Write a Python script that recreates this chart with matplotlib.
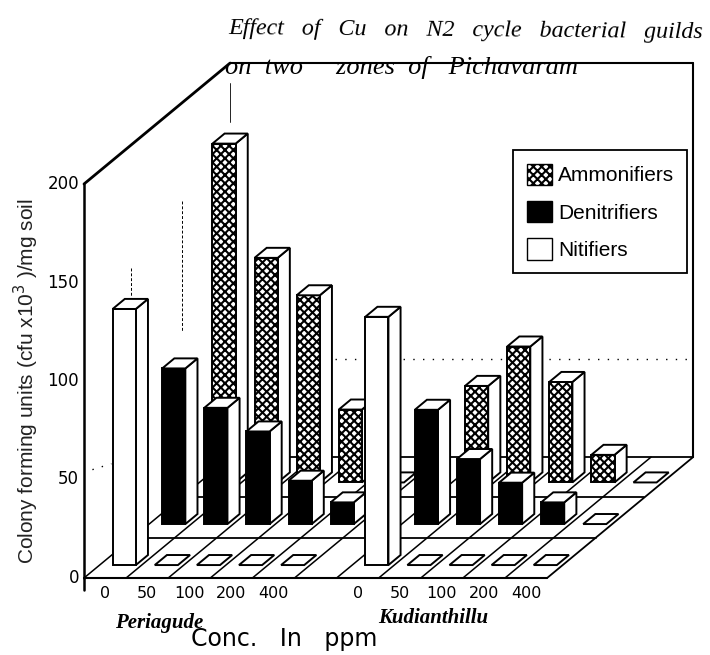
import matplotlib
matplotlib.use('Agg')
import matplotlib.pyplot as plt
from matplotlib.patches import Patch

plt.rcParams['hatch.linewidth'] = 1.5
plt.rcParams['font.family'] = ['Liberation Sans', 'DejaVu Sans']

# values, slots 0-4 Periagude, 6-10 Kudianthillu
slots = [0, 1, 2, 3, 4, 6, 7, 8, 9, 10]
conc_labels = ['0', '50', '100', '200', '400', '0', '50', '100', '200', '400']
ammonifiers = [172, 114, 95, 37, 0, 49, 69, 51, 14, 0]
denitrifiers = [79, 59, 47, 22, 11, 58, 33, 21, 11, 0]
nitrifiers = [130, 0, 0, 0, 0, 126, 0, 0, 0, 0]
y_ticks = [0, 50, 100, 150, 200]

# oblique projection, one slot is 42.1 px and one unit is 1.97 px
DX = 3.47
DY = 61.4
N_SLOTS = 11


def proj(slot, depth, value=0):
    return slot + depth * DX, value + depth * DY


def line(ax, a, b, lw=1.3, **kw):
    ax.plot([a[0], b[0]], [a[1], b[1]], color='k', lw=lw, solid_capstyle='round', **kw)


def bar3(ax, slot, depth, value, face, hatch=None):
    x0 = slot + 0.31
    x1 = x0 + 0.55
    d0 = depth
    d1 = depth + 0.083
    front = [proj(x0, d0), proj(x1, d0), proj(x1, d0, value), proj(x0, d0, value)]
    side = [proj(x1, d0), proj(x1, d1), proj(x1, d1, value), proj(x1, d0, value)]
    top = [proj(x0, d0, value), proj(x1, d0, value), proj(x1, d1, value), proj(x0, d1, value)]
    if value > 0:
        ax.fill(*zip(*side), facecolor='white', edgecolor='k', lw=1.4, zorder=3)
        ax.fill(*zip(*front), facecolor=face, edgecolor='k', lw=1.4, hatch=hatch, zorder=3)
    ax.fill(*zip(*top), facecolor='white', edgecolor='k', lw=1.4, zorder=3)


fig = plt.figure(figsize=(7.1, 6.55), dpi=100)
ax = fig.add_axes([0, 0, 1, 1])
ax.set_xlim(-84 / 42.1, (710 - 84) / 42.1)
ax.set_ylim((578 - 655) / 1.97, 578 / 1.97)
ax.axis('off')

# walls
line(ax, proj(0, 0, 0), proj(0, 0, 200), lw=1.8)
line(ax, proj(0, 0, -6), proj(0, 0, 0), lw=1.8)
line(ax, proj(0, 0, 200), proj(0, 1, 200), lw=2)
line(ax, proj(0, 1, 200), proj(N_SLOTS, 1, 200), lw=1.5)
line(ax, proj(N_SLOTS, 1, 0), proj(N_SLOTS, 1, 200), lw=1.5)
line(ax, proj(0, 1, 190), proj(0, 1, 170), lw=0.6)
for s, top, bottom in [(-1.15, 130, 64), (-2.35, 96, 82)]:
    line(ax, proj(s, 1, top), proj(s, 1, bottom), lw=0.7, linestyle=(0, (3, 2)))
ax.plot(*zip(proj(2.5, 1, 50), proj(N_SLOTS, 1, 50)), color='k', lw=1, linestyle=(0, (1, 6)))
ax.plot(*zip(proj(0.2, 0, 55), proj(0.65, 0, 58)), color='k', lw=1, linestyle=(0, (1, 6)))

# floor
line(ax, proj(0, 0), proj(N_SLOTS, 0), lw=1.5)
line(ax, proj(0, 1), proj(N_SLOTS, 1), lw=1.3)
line(ax, proj(N_SLOTS, 0), proj(N_SLOTS, 1), lw=1.3)
for s in range(N_SLOTS):
    line(ax, proj(s, 0), proj(s, 1), lw=1.1)
for d in [1 / 3, 2 / 3]:
    line(ax, proj(0, d), proj(N_SLOTS, d), lw=1.3)

# back row first so the front rows cover it
for s, v in zip(slots, ammonifiers):
    bar3(ax, s, 0.79, v, 'white', hatch='xxxx')
for s, v in zip(slots, denitrifiers):
    bar3(ax, s, 0.446, v, 'black')
for s, v in zip(slots, nitrifiers):
    bar3(ax, s, 0.107, v, 'white')

# tick labels
for v in y_ticks:
    x, y = proj(-0.12, 0, v)
    ax.text(x, y, str(v), ha='right', va='center', fontsize=12, family='DejaVu Sans')
for s, lab in zip(slots, conc_labels):
    x, y = proj(s + 0.5, 0, -8)
    ax.text(x, y, lab, ha='center', va='center', fontsize=11.5, family='DejaVu Sans')

ax.text(-1.36, 100, 'Colony forming units (cfu x10$^3$ )/mg soil', rotation=90, ha='center',
        va='center', fontsize=15, color='#222222')
ax.text(4.75, -31, 'Conc.   In   ppm', ha='center', va='center', fontsize=17, family='DejaVu Sans')
ax.text(0.73, -23, 'Periagude', ha='left', va='center', fontsize=15, style='italic',
        weight='bold', family='Liberation Serif')
ax.text(6.98, -20.5, 'Kudianthillu', ha='left', va='center', fontsize=15, style='italic',
        weight='bold', family='Liberation Serif')

# handwritten title
ax.text(3.42, 278, 'Effect   of   Cu   on   N2   cycle   bacterial   guilds', ha='left', va='center',
        fontsize=17.3, style='italic', family='Liberation Serif', rotation=-0.5)
ax.text(3.35, 259, 'on  two     zones  of   Pichavaram', ha='left', va='center',
        fontsize=19, style='italic', family='Liberation Serif')

# legend
handles = [Patch(facecolor='white', edgecolor='k', hatch='xxxx', label='Ammonifiers'),
           Patch(facecolor='black', edgecolor='k', label='Denitrifiers'),
           Patch(facecolor='white', edgecolor='k', label='Nitifiers')]
leg = ax.legend(handles=handles, loc='upper left', bbox_to_anchor=(513 / 710, 1 - 150 / 655),
                fontsize=15, frameon=True, fancybox=False, edgecolor='k', framealpha=1,
                handlelength=1.2, handleheight=1.2, handletextpad=0.3, labelspacing=0.75,
                borderpad=0.65, borderaxespad=0)
leg.get_frame().set_linewidth(1.3)

fig.savefig('out.png', dpi=100)
